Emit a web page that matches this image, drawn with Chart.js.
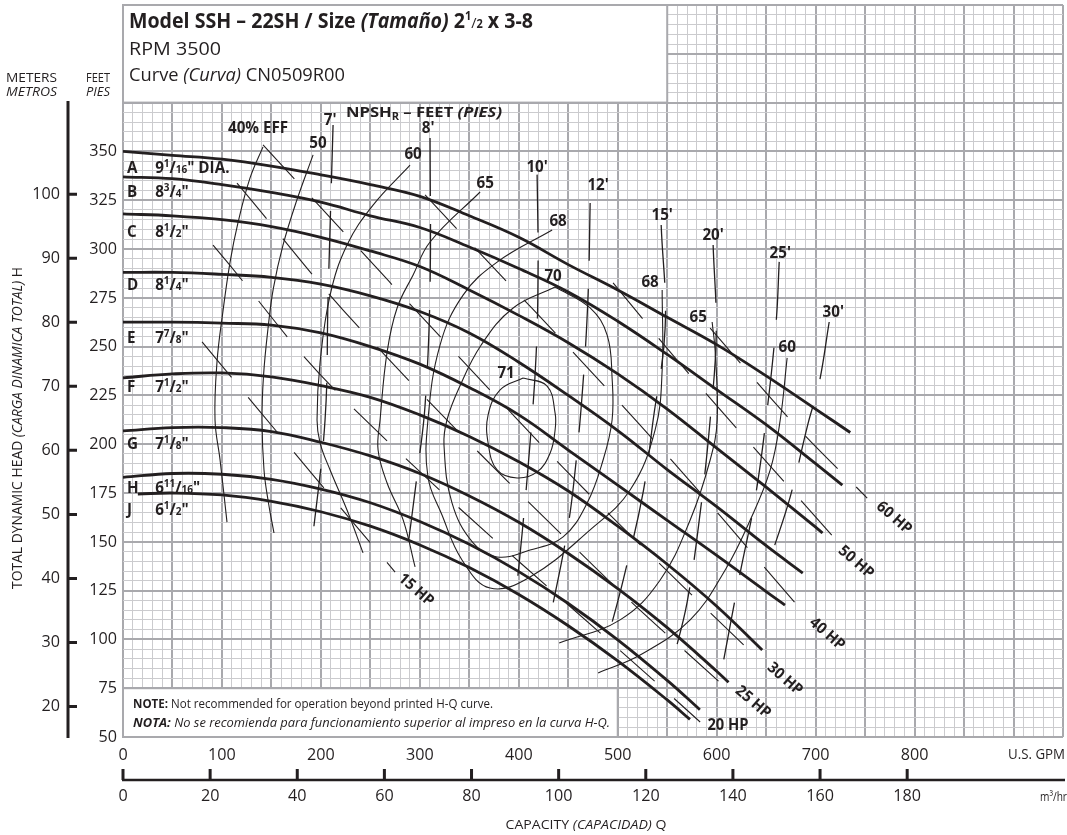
<!DOCTYPE html>
<html>
<head>
<meta charset="utf-8">
<script src="https://cdn.jsdelivr.net/npm/chart.js@4.4.1/dist/chart.umd.min.js"></script>
<style>
  html, body { margin: 0; padding: 0; background: #fff; }
  #wrap { width: 1067px; height: 835px; position: relative; }
</style>
</head>
<body>
<div id="wrap"><canvas id="chart" width="1067" height="835"></canvas></div>
<script>
// ---- H-Q curves, [US GPM, feet] ----
const curveA = [[0,350],[50,348],[100,346],[150,342.5],[200,338],[250,333],[300,327],[350,317],[400,306],[450,292],[500,279],[550,265],[600,251],[650,235],[700,218],[735,206]];
const curveB = [[0,337],[50,336],[100,333],[150,329],[200,324],[250,317],[300,311],[350,301],[400,290],[450,278],[500,263],[550,246],[600,228],[650,210],[700,190],[727,179]];
const curveC = [[0,318],[50,317],[100,315],[150,311.5],[200,306],[250,299],[300,291],[350,279],[400,266],[450,252],[500,236],[550,218],[600,198],[650,178],[700,157.5],[707,154.5]];
const curveD = [[0,288],[50,288],[100,287],[150,285.5],[200,282],[250,276],[300,268],[350,257],[400,242],[450,225],[500,207],[550,187],[600,168],[650,148],[687,134]];
const curveE = [[0,262.5],[50,262.5],[100,262],[150,261],[200,257],[250,250],[300,241],[350,229],[400,215],[450,197],[500,179],[550,161],[600,143],[650,124.5],[669,117.6]];
const curveF = [[0,234],[50,236],[100,236.5],[150,234.5],[200,230],[250,224],[300,215],[350,204],[400,191],[450,176],[500,158],[550,138.5],[600,117],[646,94.6]];
const curveG = [[0,206.8],[50,208.5],[100,208.5],[150,206.5],[200,201],[250,194],[300,185],[350,173.5],[400,160],[450,144],[500,126],[550,106],[600,83.7],[612,78]];
const curveH = [[0,183],[50,185],[100,184.6],[150,182],[200,177],[250,170],[300,160.4],[350,148.7],[400,134.7],[450,118.4],[500,99.8],[550,79],[583,64]];
const curveJ = [[15,174.5],[50,175],[100,174],[150,170.7],[200,165.4],[250,158],[300,148.4],[350,136.8],[400,123],[450,107],[500,89],[550,69],[573,59]];

const impLetters = ["A", "B", "C", "D", "E", "F", "G", "H", "J"];
const impWhole   = ["9", "8", "8", "8", "7", "7", "7", "6", "6"];
const impNum     = ["1", "3", "1", "1", "7", "1", "1", "11", "1"];
const impDen     = ["16", "4", "2", "4", "8", "2", "8", "16", "2"];

// ---- efficiency contours ----
const eff40  = [[141.5,352.3],[128.4,336.4],[116,313],[108.2,293.3],[101,268],[95,242.1],[93,212.4],[98.1,191.9],[105.1,160.1]];
const eff50  = [[192.1,348.2],[175,324],[161.7,302],[152,280],[146.6,259.5],[142,235],[140.5,212.4],[142.5,186.8],[147,170],[152.6,154.5]];
const eff60L = [[290.1,343],[252.7,322.5],[226.4,302],[209.3,276.4],[199.2,242.1],[196.1,212.4],[199.2,200.6],[209.3,186.8],[226.4,166.3],[242.6,144.3]];
const eff65L = [[360.9,329.2],[310.3,303.6],[293.2,286.7],[277,269.8],[266.9,247.2],[259.8,212.4],[257.8,197],[266.9,180.1],[283.1,161.2],[295.2,137.1]];
const eff68  = [[433.7,309.7],[378.1,293.3],[343.7,276.4],[320.4,250.8],[308.2,212.4],[308.2,183.2],[322.4,163.7],[342.6,140.7],[371,126.3],[411.4,132],[472.1,156.1],[512.5,176.5],[537.8,207.3],[544.9,238],[544.9,279]];
const eff70  = [[436.7,280.5],[472.1,269.8],[489.3,255.9],[494.3,233.9],[494.3,212.4],[485.2,191.9],[469.1,169.9],[444.8,152.5],[411.4,145.8],[378.1,142.2],[353.8,149.4],[332.5,169.9],[324.4,199.6],[327.4,212.4],[339.6,228.8],[362,250.8],[394.3,269.8],[436.7,280.5]];
const eff71  = [[404.4,233.9],[428.6,229.8],[436.7,215.9],[436.7,207.3],[431.7,195.5],[418.5,185.8],[398.3,182.7],[378.1,186.8],[369,200.6],[369,215],[381.1,227.8],[404.4,233.9]];
const eff65R = [[595.4,262.6],[598.5,247.2],[600.5,212.4],[593.4,191.9],[573.2,161.2],[542.9,130.4],[502.4,110],[440.8,98.2]];
const eff60R = [[671.2,244.2],[664.2,212.4],[654.1,186.8],[633.9,161.2],[608.6,135.6],[573.2,110],[522.6,92],[480.2,82.8]];

// ---- NPSHR lines (feet) ----
const npsh7  = [[212.3,363.5],[207.2,273.9],[204.2,212.4],[191.1,149.4]];
const npsh8  = [[310.3,356.9],[310.3,280],[305.3,220.1],[298.2,188.3],[287.1,144.3]];
const npsh10 = [[418.5,338.1],[419.5,291.8],[417.5,245.7],[411.4,200.6],[403.4,154.5],[397.3,123.8]];
const npsh12 = [[472.1,323.6],[470.1,277.5],[465,231.9],[457,186.8],[448.8,155],[431.7,111]];
const npsh15 = [[543.9,312.3],[547.9,259.5],[535.8,212.4],[525.7,175.5],[505.5,130.4],[490.3,101.2]];
const npsh20 = [[596.4,302],[599.5,255.9],[593.4,212.4],[583.3,164.8],[570.2,119.2],[556,89.5]];
const npsh25 = [[663.2,293.4],[660.1,262.6],[651,217.5],[638.9,172.4],[623.7,134],[605.5,85.3]];
const npsh30 = [[713.7,262.6],[703.6,231.4],[692.5,210.9],[674.3,173],[656.1,144.3]];

// ---- horsepower lines ----
const hp15 = [[79.9,252.4],[192.1,184.2],[275,134.5]];
const hp20 = [[91,302],[226.4,221.6],[583.3,57.7]];
const hp25 = [[115.2,333.8],[242.6,257.5],[479,136],[613.6,73.1]];
const hp30 = [[141.5,353.3],[396.3,213.9],[484.2,167.8],[646,87.9]];
const hp40 = [[305.3,327.7],[520.6,210.9],[687.4,114]];
const hp50 = [[495.3,282.6],[571.2,236.5],[717.8,152.5]];
const hp60 = [[593.4,259.5],[677.3,210.9],[752.1,172.4]];

// ---- axes ----
const gpmTicks = [0, 100, 200, 300, 400, 500, 600, 700, 800];
const m3Ticks = [0, 20, 40, 60, 80, 100, 120, 140, 160, 180];
const ftTicks = [50, 75, 100, 125, 150, 175, 200, 225, 250, 275, 300, 325, 350];
const mTicks = [20, 30, 40, 50, 60, 70, 80, 90, 100];
const GPM_PER_M3H = 4.4029;
const FT_PER_M = 3.28084;

const ink = "#231f20";
const gridMajor = "#a9a9ad";
const gridMinor = "#cbcbce";
const FONT = '"Open Sans", "Noto Sans", "DejaVu Sans", sans-serif';

const pts = (arr) => arr.map(([x, y]) => ({ x, y }));
const line = (arr, w, dash) => ({
  data: pts(arr), showLine: true, pointRadius: 0, borderColor: ink,
  borderWidth: w, borderDash: dash || [], tension: 0.4, fill: false,
});

const datasets = [];
[curveA, curveB, curveC, curveD, curveE, curveF, curveG, curveH, curveJ].forEach(c => datasets.push(line(c, 2.8)));
[eff40, eff50, eff60L, eff65L, eff68, eff70, eff71, eff65R, eff60R].forEach(c => datasets.push(line(c, 1.1)));
[npsh7, npsh8, npsh10, npsh12, npsh15, npsh20, npsh25, npsh30].forEach(c => datasets.push(line(c, 1.3, [58, 28])));
[hp15, hp20, hp25, hp30, hp40, hp50, hp60].forEach(c => datasets.push(line(c, 1.1, [46, 26])));

// rich text helper: parts {t, s, b, i, dy}; o.width squeezes horizontally
const P = (t, s, b, i, dy) => ({ t, s, b: !!b, i: !!i, dy: dy || 0 });
const fontOf = (p) => (p.i ? "italic " : "") + (p.b ? "bold " : "") + p.s + "px " + FONT;
function rich(ctx, parts, x, y, o = {}) {
  const w = parts.reduce((s, p) => { ctx.font = fontOf(p); return s + ctx.measureText(p.t).width; }, 0);
  const sx = o.width ? o.width / w : (o.sx || 1);
  ctx.save();
  ctx.translate(x, y);
  if (o.rot) ctx.rotate(o.rot);
  ctx.scale(sx, 1);
  let cx = o.align === "center" ? -w / 2 : o.align === "right" ? -w : 0;
  ctx.textAlign = "left";
  ctx.textBaseline = o.base || "alphabetic";
  ctx.fillStyle = ink;
  parts.forEach(p => {
    ctx.font = fontOf(p);
    ctx.fillText(p.t, cx, p.dy);
    cx += ctx.measureText(p.t).width;
  });
  ctx.restore();
}

const boxes = {
  id: "boxes",
  beforeDatasetsDraw(chart) {
    const { ctx, scales: { x, y } } = chart;
    const box = (x0, x1, y0, y1) => {
      const l = x.getPixelForValue(x0), r = x.getPixelForValue(x1);
      const t = y.getPixelForValue(y1), b = y.getPixelForValue(y0);
      ctx.save();
      ctx.fillStyle = "#fff";
      ctx.fillRect(l, t, r - l, b - t);
      ctx.strokeStyle = gridMajor;
      ctx.lineWidth = 2;
      ctx.strokeRect(l, t, r - l, b - t);
      ctx.restore();
    };
    box(0, 550, 375, 425);
    box(0, 500, 50, 75);
  }
};

const texts = {
  id: "texts",
  afterDraw(chart) {
    const { ctx, scales: { x, y } } = chart;
    const X = (v) => x.getPixelForValue(v), Y = (v) => y.getPixelForValue(v);

    // header
    rich(ctx, [P("Model SSH – 22SH / Size ", 20.5, 1), P("(Tamaño)", 20.5, 1, 1), P(" 2", 20.5, 1), P("1", 11.5, 1, 0, -8),
      P("/", 15), P("2", 11.5, 1), P(" x 3-8", 20.5, 1)], 129, 28, { width: 404 });
    rich(ctx, [P("RPM 3500", 17.5)], 129, 55, { width: 92 });
    rich(ctx, [P("Curve ", 17.5), P("(Curva)", 17.5, 0, 1), P(" CN0509R00", 17.5)], 129, 81, { width: 216 });

    // note box
    rich(ctx, [P("NOTE:", 13, 1), P(" Not recommended for operation beyond printed H-Q curve.", 13)], 133, 708, { width: 360 });
    rich(ctx, [P("NOTA:", 13, 1, 1), P(" No se recomienda para funcionamiento superior al impreso en la curva H-Q.", 13, 0, 1)], 133, 727, { width: 477 });

    // left axes headings
    rich(ctx, [P("METERS", 13.5)], 6, 82, { width: 51 });
    rich(ctx, [P("METROS", 13.5, 0, 1)], 6, 96, { width: 51 });
    rich(ctx, [P("FEET", 13.5)], 86, 82, { width: 24 });
    rich(ctx, [P("PIES", 13.5, 0, 1)], 86, 96, { width: 24 });

    // feet labels
    ftTicks.forEach(v => rich(ctx, [P(String(v), 17)], 117, Y(v), { align: "right", base: "middle", sx: 0.95 }));

    // meters axis
    ctx.save();
    ctx.strokeStyle = ink;
    ctx.lineWidth = 3;
    ctx.beginPath();
    ctx.moveTo(68, 101);
    ctx.lineTo(68, 738);
    mTicks.forEach(m => { const py = Y(m * FT_PER_M); ctx.moveTo(68, py); ctx.lineTo(77, py); });
    ctx.stroke();
    ctx.restore();
    mTicks.forEach(m => rich(ctx, [P(String(m), 17)], 60, Y(m * FT_PER_M), { align: "right", base: "middle", sx: 0.95 }));

    rich(ctx, [P("TOTAL DYNAMIC HEAD ", 14), P("(CARGA DINAMICA TOTAL)", 14, 0, 1), P(" H", 14)], 18, 428,
      { align: "center", base: "middle", rot: -Math.PI / 2, width: 322 });

    // GPM labels
    gpmTicks.forEach(v => rich(ctx, [P(String(v), 17)], X(v), 755, { align: "center", base: "middle", sx: 0.95 }));
    rich(ctx, [P("U.S. GPM", 15)], 1065, 755, { align: "right", base: "middle", width: 57 });

    // m3/hr axis
    ctx.save();
    ctx.strokeStyle = ink;
    ctx.lineWidth = 2.6;
    ctx.beginPath();
    ctx.moveTo(X(0) - 1, 780);
    ctx.lineTo(1065, 780);
    ctx.stroke();
    ctx.lineWidth = 3;
    ctx.beginPath();
    m3Ticks.forEach(m => { const px = X(m * GPM_PER_M3H); ctx.moveTo(px, 769); ctx.lineTo(px, 780); });
    ctx.stroke();
    ctx.restore();
    m3Ticks.forEach(m => rich(ctx, [P(String(m), 17)], X(m * GPM_PER_M3H), 796, { align: "center", base: "middle", sx: 0.95 }));
    rich(ctx, [P("m³/hr", 12.5)], 1067, 797, { align: "right", base: "middle", width: 27 });
    rich(ctx, [P("CAPACITY ", 13.5), P("(CAPACIDAD)", 13.5, 0, 1), P(" Q", 13.5)], 586, 825, { align: "center", base: "middle", width: 161 });

    // impeller labels
    const impBase = [338.9, 326.6, 306.1, 279, 251.8, 226.7, 197.5, 175, 163.7];
    impLetters.forEach((L, i) => {
      rich(ctx, [P(L, 16, 1)], X(4), Y(impBase[i]), { sx: 0.95 });
      const parts = [P(impWhole[i], 16, 1), P(impNum[i], 10.5, 1, 0, -6), P("/", 16, 1), P(impDen[i], 10.5, 1), P('"', 16, 1)];
      if (i === 0) parts.push(P(" DIA.", 16, 1));
      rich(ctx, parts, X(32.5), Y(impBase[i]), { sx: 0.95 });
    });

    // efficiency labels
    const effLabels = [["40% EFF", 136.5, 362], ["50", 197.1, 354.3], ["60", 293.2, 348.2], ["65", 366, 333.8], ["68", 439.7, 314.3],
      ["70", 434.7, 285.7], ["71", 387.2, 236.5], ["68", 532.7, 283.1], ["65", 581.3, 264.7], ["60", 671.2, 249.8]];
    effLabels.forEach(([t, gx, gy]) => rich(ctx, [P(t, 16, 1)], X(gx), Y(gy), { align: "center", base: "middle", sx: 0.95 }));

    // NPSH labels
    rich(ctx, [P("NPSH", 15, 1), P("R", 10, 1, 0, 3), P(" – FEET ", 15, 1), P("(PIES)", 15, 1, 1)], 346, 117, { width: 156 });
    const npLabels = [["7'", 209.3, 366.1], ["8'", 308.3, 362], ["10'", 418.5, 342], ["12'", 480.2, 332.8], ["15'", 544.9, 317.4],
      ["20'", 596.4, 307.2], ["25'", 664.2, 297.9], ["30'", 717.8, 267.7]];
    npLabels.forEach(([t, gx, gy]) => rich(ctx, [P(t, 16, 1)], X(gx), Y(gy), { align: "center", base: "middle", sx: 0.95 }));

    // HP labels
    const rot = 41 * Math.PI / 180;
    const hpLabels = [["15 HP", 296.1, 125.3, rot], ["20 HP", 611.4, 56.1, 0], ["25 HP", 636.7, 67.9, rot], ["30 HP", 669, 79.7, rot],
      ["40 HP", 711.5, 102.8, rot], ["50 HP", 740.8, 139.6, rot], ["60 HP", 779.2, 162.2, rot]];
    hpLabels.forEach(([t, gx, gy, a]) => rich(ctx, [P(t, 15.5, 1)], X(gx), Y(gy), { align: "center", base: "middle", rot: a, sx: 0.95 }));
  }
};

const isMajorX = (v) => Math.abs(v % 50) < 1e-6;
const isMajorY = (v) => Math.abs((v - 50) % 25) < 1e-6;

new Chart(document.getElementById("chart"), {
  type: "scatter",
  data: { datasets },
  options: {
    responsive: false,
    animation: false,
    layout: { padding: { left: 123, top: 5, right: 4, bottom: 98 } },
    plugins: { legend: { display: false }, tooltip: { enabled: false } },
    scales: {
      x: {
        type: "linear", min: 0, max: 950,
        ticks: { display: false, stepSize: 10, autoSkip: false },
        grid: {
          drawTicks: false,
          color: (c) => isMajorX(c.tick.value) ? gridMajor : gridMinor,
          lineWidth: (c) => isMajorX(c.tick.value) ? 2 : 1,
        },
        border: { display: false },
      },
      y: {
        type: "linear", min: 50, max: 425,
        ticks: { display: false, stepSize: 5, autoSkip: false },
        grid: {
          drawTicks: false,
          color: (c) => isMajorY(c.tick.value) ? gridMajor : gridMinor,
          lineWidth: (c) => isMajorY(c.tick.value) ? 2 : 1,
        },
        border: { display: false },
      },
    },
  },
  plugins: [boxes, texts],
});
</script>
</body>
</html>
